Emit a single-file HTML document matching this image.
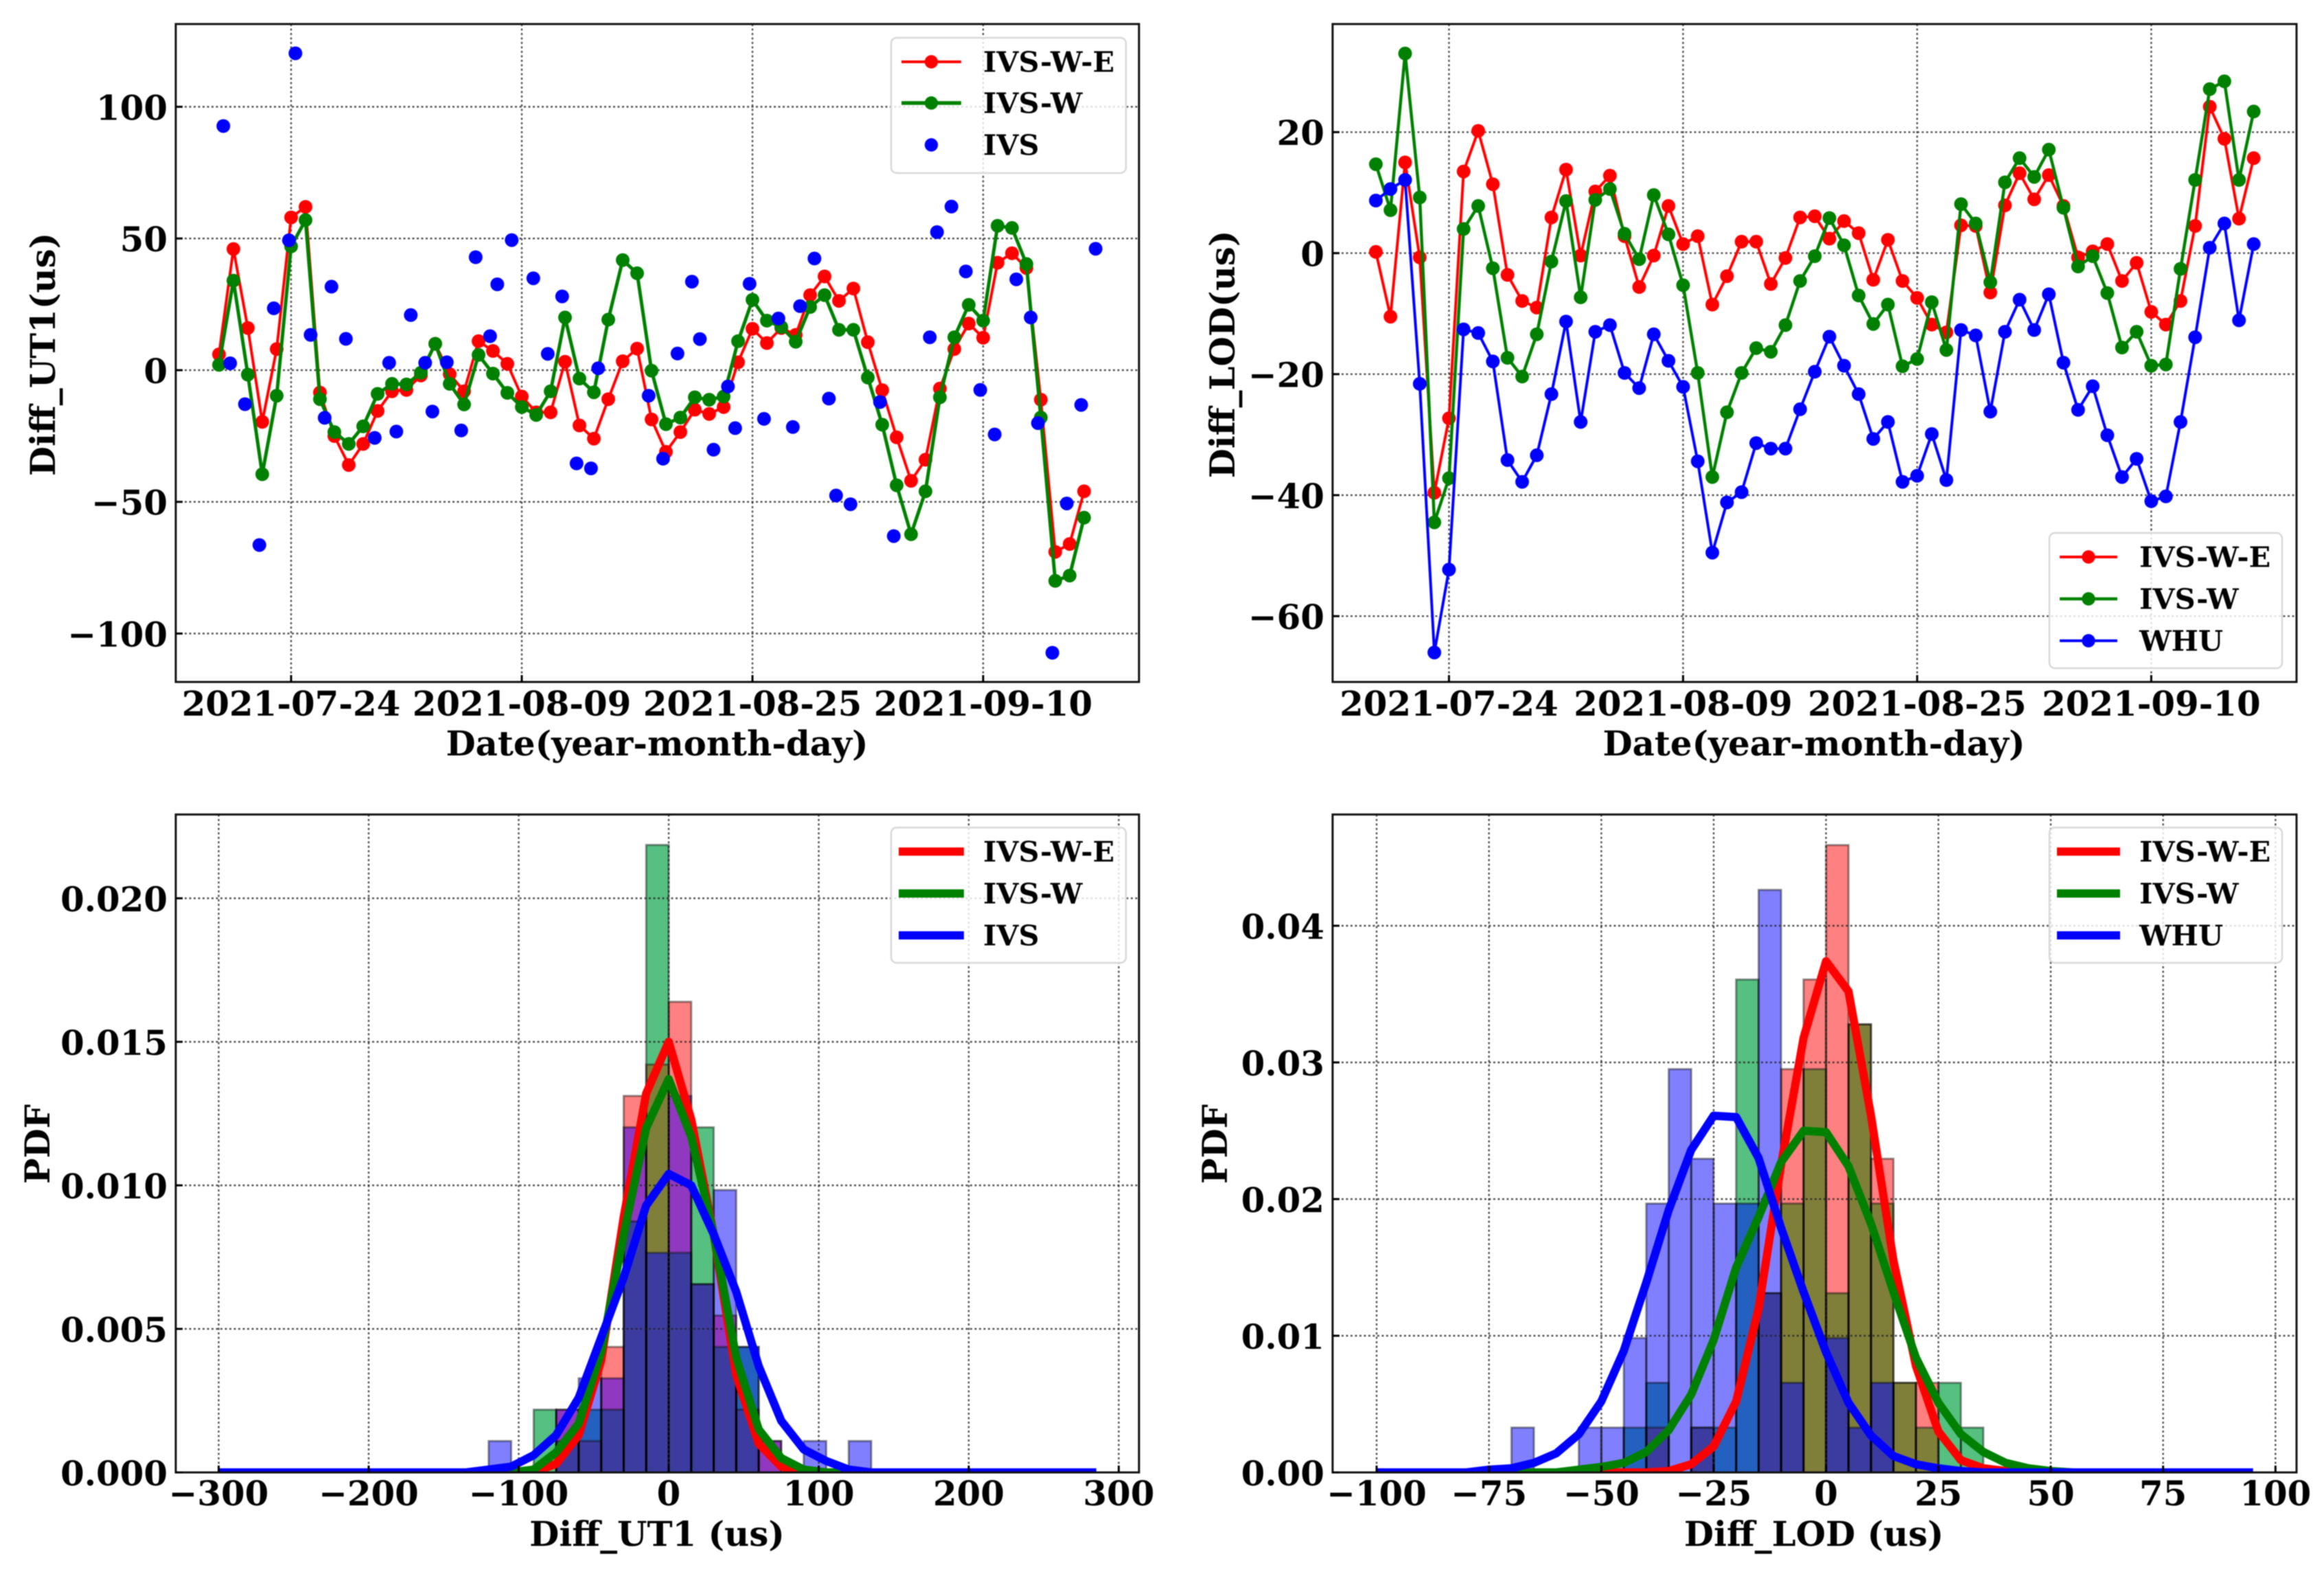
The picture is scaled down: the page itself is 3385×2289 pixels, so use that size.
<!DOCTYPE html>
<html lang="en">
<head>
<meta charset="utf-8">
<title>Diff UT1 and LOD comparison</title>
<style>
html,body{margin:0;padding:0;background:#fff;}
body{width:3385px;height:2289px;overflow:hidden;}
#figure{display:block;filter:blur(0.9px);}
text{font-family:"DejaVu Serif","Liberation Serif",serif;font-weight:bold;fill:#000;}
</style>
</head>
<body>
<svg id="figure" xmlns="http://www.w3.org/2000/svg" width="3385" height="2289" viewBox="0 0 3385 2289">
<rect x="0" y="0" width="3385" height="2289" fill="#ffffff"/>
</svg>
<script>
// ---------- shared tick data ----------
const dateTickLabels = ['2021-07-24','2021-08-09','2021-08-25','2021-09-10'];
const dateTickDays = [5,21,37,53];
const ut1YTicks = [-100,-50,0,50,100];
const lodYTicks = [-60,-40,-20,0,20];
const ut1PdfXTicks = [-300,-200,-100,0,100,200,300];
const lodPdfXTicks = [-100,-75,-50,-25,0,25,50,75,100];
const ut1PdfYTicks = ['0.000','0.005','0.010','0.015','0.020'];
const lodPdfYTicks = ['0.00','0.01','0.02','0.03','0.04'];

// ---------- Diff_UT1 time series (day index 0 = 2021-07-19) ----------
const ut1Red = [6,46,16,-19.6,8,58,62,-8.5,-25,-36,-28,-15.5,-8,-7.5,-2,10,-1.5,-8,11,7.3,2.4,-10,-16,-16,3.2,-21,-26,-11,3.4,8.2,-18.7,-31,-23.5,-15,-16.6,-14,3,15.7,10.3,16,13.4,28.5,35.6,26.3,31,10.6,-7.6,-25.5,-42,-34,-7,8,17.7,12.3,40.8,44.4,38.8,-11.2,-69,-66,-46];
const ut1Green = [2,34,-1.7,-39.5,-9.7,47,57,-11,-23.5,-28,-21.3,-9,-5.2,-5.4,-1,10,-5.2,-13,5.8,-1.3,-8.6,-14,-17,-8,20,-3.2,-8.4,19.2,41.8,36.8,-0.2,-20.5,-18,-10.3,-11.2,-10,11,26.7,18.8,16.4,10.8,24,28.5,15.3,15.3,-2.8,-20.7,-43.7,-62.3,-46,-10.3,12.5,24.8,18.8,54.8,54,40.3,-18,-80,-78,-56];
const ut1IvsDays = [0.3,0.77,1.8,2.8,3.8,4.85,5.3,6.35,7.33,7.8,8.8,10.8,11.8,12.3,13.3,14.3,14.8,15.8,16.8,17.8,18.8,19.3,20.3,21.8,22.8,23.8,24.8,25.8,26.3,29.8,30.8,31.8,32.8,33.35,34.3,35.3,35.8,36.8,37.8,38.8,39.8,40.3,41.3,42.3,42.8,43.8,45.85,46.8,49.3,49.8,50.8,51.8,52.8,53.8,55.3,56.3,56.8,57.8,58.8,59.8,60.8];
const ut1IvsValues = [92.7,2.6,-12.9,-66.4,23.5,49.3,120.3,13.4,-18.1,31.7,11.9,-25.7,2.8,-23.3,20.9,2.8,-15.7,3,-22.9,42.9,12.9,32.6,49.4,34.9,6.2,28,-35.4,-37.3,0.7,-9.7,-33.6,6.3,33.6,11.8,-30.2,-6.2,-22,32.8,-18.5,19.6,-21.6,24.3,42.4,-10.8,-47.6,-50.9,-12.1,-63,12.5,52.4,62.1,37.5,-7.5,-24.4,34.5,20,-20.1,-107.3,-50.6,-13.2,46.1];

// ---------- Diff_LOD time series ----------
const lodRed = [0.2,-10.5,15,-0.7,-39.6,-27.3,13.5,20.2,11.4,-3.6,-7.9,-9,5.9,13.8,-0.4,10.2,12.8,2.8,-5.6,-0.4,7.8,1.5,2.8,-8.5,-3.8,1.9,1.9,-5.1,-0.8,5.9,6.1,2.4,5.3,3.3,-4.4,2.2,-4.6,-7.4,-11.8,-13.1,4.6,4.5,-6.5,7.9,13.2,8.9,12.9,7.8,-0.7,0.3,1.5,-4.6,-1.6,-9.7,-11.8,-7.9,4.5,24.2,18.9,5.7,15.7];
const lodGreen = [14.7,7.1,33,9.2,-44.5,-37.2,4,7.8,-2.5,-17.3,-20.4,-13.4,-1.4,8.6,-7.3,8.8,10.6,3.2,-1,9.6,3.1,-5.3,-19.8,-37,-26.3,-19.8,-15.7,-16.3,-11.9,-4.6,-0.5,5.8,1.3,-7,-11.7,-8.5,-18.7,-17.5,-8.1,-16,8.1,4.9,-4.8,11.7,15.7,12.6,17.1,7.5,-2.2,-0.5,-6.6,-15.6,-13,-18.6,-18.4,-2.6,12.1,27.1,28.4,12.1,23.4];
const lodBlue = [8.7,10.6,12.1,-21.6,-66,-52.3,-12.6,-13.2,-17.9,-34.2,-37.8,-33.4,-23.3,-11.3,-27.9,-13,-11.9,-19.8,-22.3,-13.4,-17.8,-22.1,-34.4,-49.5,-41.2,-39.5,-31.4,-32.3,-32.3,-25.8,-19.6,-13.8,-18.6,-23.3,-30.7,-27.9,-37.8,-36.8,-29.9,-37.5,-12.7,-13.6,-26.2,-13,-7.7,-12.7,-6.8,-18.1,-25.9,-22,-30.1,-37,-34,-41,-40.2,-27.9,-13.9,0.9,4.9,-11.1,1.5];

// ---------- Diff_UT1 histogram (left bin edges, counts) ----------
const ut1BinEdges = [-120,-105,-90,-75,-60,-45,-30,-15,0,15,30,45,60,75,90,105,120];
const ut1HistRed = [0,0,0,2,1,4,12,13,15,6,5,2,1,0,0,0,0];
const ut1HistGreen = [0,0,2,1,2,2,8,20,7,11,4,4,0,0,0,0,0];
const ut1HistBlue = [1,0,0,2,3,3,11,7,12,6,9,4,1,0,1,0,1];

// ---------- Diff_UT1 fitted curves, node -300 + 15k ----------
const ut1CurveRed = [0,0,0,0,0,0,0,0,0,0,0,0, 0,0,0,.0003,.0013,.0039,.0089,.0132,.0150,.0123,.0083,.0034,.0010,.0002,0, 0,0,0,0,0,0,0,0,0,0,0,0,0];
const ut1CurveGreen = [0,0,0,0,0,0,0,0,0,0,0,0, 0,0,.0001,.0007,.0017,.0042,.0083,.0120,.0137,.0117,.0083,.0040,.0015,.0005,.0001, 0,0,0,0,0,0,0,0,0,0,0,0,0];
const ut1CurveBlue = [0,0,0,0,0,0,0,0,0,0,0,0, .0001,.0002,.0006,.0013,.0026,.0047,.0068,.0093,.0104,.0100,.0083,.0063,.0037,.0018,.0008, .0004,.0001,0,0,0,0,0,0,0,0,0,0,0];

// ---------- Diff_LOD histogram (left bin edges, counts) ----------
const lodBinEdges = [-70,-65,-60,-55,-50,-45,-40,-35,-30,-25,-20,-15,-10,-5,0,5,10,15,20,25,30];
const lodHistRed = [0,0,0,0,0,0,1,0,1,0,0,4,9,11,14,10,7,2,2,0,0];
const lodHistGreen = [0,0,0,0,0,1,2,0,1,1,11,4,6,9,4,10,6,2,1,2,1];
const lodHistBlue = [1,0,0,1,1,3,6,9,7,6,6,13,2,0,3,1,2,0,0,0,0];

// ---------- Diff_LOD fitted curves, node -100 + 5k ----------
const lodCurveRed = [0,0,0,0,0,0,0,0,0,0,0,0,0, .0001,.0006,.0019,.0052,.012,.0225,.0318,.0374,.0352,.0261,.0155,.0078,.003,.0009,.0003,.0001, 0,0,0,0,0,0,0,0,0,0,0];
const lodCurveGreen = [0,0,0,0,0,0,0,0,0, .0002,.0004,.0007,.0015,.0031,.0057,.0097,.015,.0187,.0227,.025,.0249,.0224,.0182,.0132,.0084,.0051,.0028,.0015,.0007,.0003,.0001, 0,0,0,0,0,0,0,0,0];
const lodCurveBlue = [0,0,0,0,0,.0002,.0003,.0007,.0014,.0028,.0052,.0089,.0139,.0192,.0236,.0261,.026,.023,.0179,.0132,.0088,.0051,.0027,.0012,.0006,.0003,.0001, 0,0,0,0,0,0,0,0,0,0,0,0,0];

const sampleCount = 61;

// ---------- helpers ----------
const svg = document.getElementById('figure');
const NS = 'http://www.w3.org/2000/svg';
function mk(tag, attrs, parent) {
  const el = document.createElementNS(NS, tag);
  for (const k in attrs) el.setAttribute(k, attrs[k]);
  (parent || svg).appendChild(el);
  return el;
}
function group(name) {
  const g = mk('g', {});
  
  
  return g;
}
function fmtMinus(v) { return String(v).replace('-', '\u2212'); }

const frames = {
  ut1Series: {L:256, R:1659, T:35, B:993},
  lodSeries: {L:1941, R:3345, T:35, B:993},
  ut1Pdf: {L:256, R:1659, T:1186, B:2144},
  lodPdf: {L:1941, R:3345, T:1186, B:2144}
};
// axis functions
const axes = {
  ut1Series: {x: d => 319 + 21 * d, y: v => 539 - 3.835 * v},
  lodSeries: {x: d => 2110.5 + 21.31 * (d - 5), y: v => 368.6 - 8.81 * v},
  ut1Pdf: {x: v => 974 + 2.185 * v, y: v => 2144 - 41800 * v},
  lodPdf: {x: v => 2659.7 + 6.546 * v, y: v => 2144 - 19900 * v}
};

function setupClip(key, g) {
  const f = frames[key];
  const cp = mk('clipPath', {id: 'clip-' + key}, g);
  mk('rect', {x: f.L, y: f.T, width: f.R - f.L, height: f.B - f.T}, cp);
}

function drawGrid(key, xVals, yVals, g) {
  const f = frames[key], ax = axes[key];
  xVals.forEach(v => {
    const line = mk('line', {x1: ax.x(v), x2: ax.x(v), y1: f.T, y2: f.B, stroke: '#222', 'stroke-width': 2.4, 'stroke-dasharray': '3 3.5', opacity: .8}, g);
    
    
  });
  yVals.forEach(v => {
    const line = mk('line', {x1: f.L, x2: f.R, y1: ax.y(+v), y2: ax.y(+v), stroke: '#222', 'stroke-width': 2.4, 'stroke-dasharray': '3 3.5', opacity: .8}, g);
    
    
  });
}

function drawFrame(key, g) {
  const f = frames[key];
  const r = mk('rect', {x: f.L, y: f.T, width: f.R - f.L, height: f.B - f.T, fill: 'none', stroke: '#111', 'stroke-width': 3}, g);
  
  
}

function drawTicks(key, xVals, xLabels, yVals, yLabels, xBase, g) {
  const f = frames[key], ax = axes[key];
  xVals.forEach((v, i) => {
    const px = ax.x(v);
    const t = mk('line', {x1: px, x2: px, y1: f.B, y2: f.B - 10, stroke: '#000', 'stroke-width': 3}, g);
    
    
    const l = mk('text', {x: px, y: xBase, 'font-size': 49.8, 'text-anchor': 'middle'}, g);
    l.textContent = xLabels[i];
    
    
  });
  yVals.forEach((v, i) => {
    const py = ax.y(+v);
    const t = mk('line', {x1: f.L, x2: f.L + 10, y1: py, y2: py, stroke: '#000', 'stroke-width': 3}, g);
    
    
    const l = mk('text', {x: f.L - 12, y: py + 18.8, 'font-size': 49.8, 'text-anchor': 'end'}, g);
    l.textContent = yLabels[i];
    
    
  });
}

function drawTitles(key, xText, xCx, xBase, yText, yCx, yCy, g) {
  const xt = mk('text', {x: xCx, y: xBase, 'font-size': 49.8, 'text-anchor': 'middle'}, g);
  xt.textContent = xText;
  
  
  const yt = mk('text', {x: yCx, y: yCy, 'font-size': 49.8, 'text-anchor': 'middle', transform: 'rotate(-90 ' + yCx + ' ' + yCy + ')'}, g);
  yt.textContent = yText;
  
  
}

function drawSeriesLine(key, values, color, width, g, name) {
  const ax = axes[key];
  const pts = values.map((v, i) => ax.x(i).toFixed(1) + ',' + ax.y(v).toFixed(1)).join(' ');
  const line = mk('polyline', {points: pts, fill: 'none', stroke: color, 'stroke-width': width, 'stroke-linejoin': 'round'}, g);
  
  
  values.forEach((v, i) => {
    const c = mk('circle', {cx: ax.x(i).toFixed(1), cy: ax.y(v).toFixed(1), r: 10, fill: color}, g);
    
    
  });
}

const overlapColors = {
  R: '#ff8080', G: '#55c080', B: '#8080ff',
  RG: '#807f3a', RB: '#9038c0', GB: '#2460c0', RGB: '#3c3ca0'
};

function drawHistogram(key, edges, width, red, green, blue, g) {
  const ax = axes[key];
  const unit = 1 / (sampleCount * width);
  edges.forEach((e, i) => {
    const counts = {R: red[i], G: green[i], B: blue[i]};
    const levels = [...new Set([0, counts.R, counts.G, counts.B])].sort((a, b) => a - b);
    for (let k = 0; k + 1 < levels.length; k++) {
      const lo = levels[k], hi = levels[k + 1];
      const mask = ['R', 'G', 'B'].filter(s => counts[s] > lo).join('');
      const seg = mk('rect', {
        x: ax.x(e), width: ax.x(e + width) - ax.x(e),
        y: ax.y(hi * unit), height: ax.y(lo * unit) - ax.y(hi * unit),
        fill: overlapColors[mask]
      }, g);
      
      
    }
  });
  const outline = (values, name) => {
    edges.forEach((e, i) => {
      if (!values[i]) return;
      const bar = mk('rect', {
        x: ax.x(e), width: ax.x(e + width) - ax.x(e),
        y: ax.y(values[i] * unit), height: ax.y(0) - ax.y(values[i] * unit),
        fill: 'none', stroke: 'rgba(0,0,0,.42)', 'stroke-width': 3
      }, g);
      
      
    });
  };
  outline(red, key + '-red');
  outline(green, key + '-green');
  outline(blue, key + '-blue');
}

function drawCurve(key, start, step, values, color, g, name) {
  const ax = axes[key];
  const pts = values.map((v, i) => ax.x(start + step * i).toFixed(1) + ',' + ax.y(v).toFixed(1)).join(' ');
  const line = mk('polyline', {points: pts, fill: 'none', stroke: color, 'stroke-width': 12, 'stroke-linejoin': 'round'}, g);
  
  
}

function drawLegend(name, x, y, w, h, rows, lineX1, lineX2, textX) {
  const g = group(name);
  const box = mk('rect', {x: x, y: y, width: w, height: h, rx: 8, ry: 8, fill: 'rgba(255,255,255,.82)', stroke: '#d8d8d8', 'stroke-width': 2.5}, g);
  
  
  rows.forEach(row => {
    if (row.lineWidth) {
      const l = mk('line', {x1: lineX1, x2: lineX2, y1: row.y, y2: row.y, stroke: row.color, 'stroke-width': row.lineWidth}, g);
      
      
    }
    if (row.marker) {
      const c = mk('circle', {cx: (lineX1 + lineX2) / 2, cy: row.y, r: 9.7, fill: row.color}, g);
      
      
    }
    const t = mk('text', {x: textX, y: row.y + 14.5, 'font-size': 41.5}, g);
    t.textContent = row.label;
    
    
  });
}

// ---------- panel 1: Diff_UT1 series ----------
(function () {
  const key = 'ut1Series';
  const g = group('ut1-series-panel');
  setupClip(key, g);
  drawGrid(key, dateTickDays, ut1YTicks, g);
  const marks = group('ut1-series-marks');
  marks.setAttribute('clip-path', 'url(#clip-' + key + ')');
  drawSeriesLine(key, ut1Red, '#ff0000', 4, marks, 'ut1-ivs-w-e');
  drawSeriesLine(key, ut1Green, '#008000', 5, marks, 'ut1-ivs-w');
  ut1IvsValues.forEach((v, i) => {
    const c = mk('circle', {cx: axes[key].x(ut1IvsDays[i]).toFixed(1), cy: axes[key].y(v).toFixed(1), r: 10, fill: '#0000ff'}, marks);
    
    
  });
  const top = group('ut1-series-axes');
  drawFrame(key, top);
  drawTicks(key, dateTickDays, dateTickLabels, ut1YTicks, ut1YTicks.map(fmtMinus), 1042, top);
  drawTitles(key, 'Date(year-month-day)', 957, 1100, 'Diff_UT1(us)', 80, 516, top);
  drawLegend('ut1-series-legend', 1298, 55, 342, 197, [
    {label: 'IVS-W-E', color: '#ff0000', lineWidth: 4, marker: true, y: 90},
    {label: 'IVS-W', color: '#008000', lineWidth: 5.5, marker: true, y: 150},
    {label: 'IVS', color: '#0000ff', lineWidth: 0, marker: true, y: 211}
  ], 1313, 1400, 1432);
})();

// ---------- panel 2: Diff_LOD series ----------
(function () {
  const key = 'lodSeries';
  const g = group('lod-series-panel');
  setupClip(key, g);
  drawGrid(key, dateTickDays, lodYTicks, g);
  const marks = group('lod-series-marks');
  marks.setAttribute('clip-path', 'url(#clip-' + key + ')');
  drawSeriesLine(key, lodRed, '#ff0000', 4, marks, 'lod-ivs-w-e');
  drawSeriesLine(key, lodGreen, '#008000', 4.5, marks, 'lod-ivs-w');
  drawSeriesLine(key, lodBlue, '#0000ff', 4, marks, 'lod-whu');
  const top = group('lod-series-axes');
  drawFrame(key, top);
  drawTicks(key, dateTickDays, dateTickLabels, lodYTicks, lodYTicks.map(fmtMinus), 1042, top);
  drawTitles(key, 'Date(year-month-day)', 2642, 1100, 'Diff_LOD(us)', 1798, 516, top);
  drawLegend('lod-series-legend', 2985, 776, 339, 197, [
    {label: 'IVS-W-E', color: '#ff0000', lineWidth: 4, marker: true, y: 811},
    {label: 'IVS-W', color: '#008000', lineWidth: 4.5, marker: true, y: 872},
    {label: 'WHU', color: '#0000ff', lineWidth: 4, marker: true, y: 933}
  ], 3000, 3084, 3116);
})();

// ---------- panel 3: Diff_UT1 PDF ----------
(function () {
  const key = 'ut1Pdf';
  const g = group('ut1-pdf-panel');
  setupClip(key, g);
  const marks = group('ut1-pdf-marks');
  marks.setAttribute('clip-path', 'url(#clip-' + key + ')');
  drawHistogram(key, ut1BinEdges, 15, ut1HistRed, ut1HistGreen, ut1HistBlue, marks);
  drawGrid(key, ut1PdfXTicks, ut1PdfYTicks, marks);
  drawCurve(key, -300, 15, ut1CurveRed, '#ff0000', marks, 'ut1-ivs-w-e');
  drawCurve(key, -300, 15, ut1CurveGreen, '#008000', marks, 'ut1-ivs-w');
  drawCurve(key, -300, 15, ut1CurveBlue, '#0000ff', marks, 'ut1-ivs');
  const top = group('ut1-pdf-axes');
  drawFrame(key, top);
  drawTicks(key, ut1PdfXTicks, ut1PdfXTicks.map(fmtMinus), ut1PdfYTicks, ut1PdfYTicks, 2192, top);
  drawTitles(key, 'Diff_UT1 (us)', 957, 2251, 'PDF', 72, 1666, top);
  drawLegend('ut1-pdf-legend', 1298, 1205, 342, 197, [
    {label: 'IVS-W-E', color: '#ff0000', lineWidth: 12, marker: false, y: 1240},
    {label: 'IVS-W', color: '#008000', lineWidth: 12, marker: false, y: 1301},
    {label: 'IVS', color: '#0000ff', lineWidth: 12, marker: false, y: 1362}
  ], 1309, 1404, 1432);
})();

// ---------- panel 4: Diff_LOD PDF ----------
(function () {
  const key = 'lodPdf';
  const g = group('lod-pdf-panel');
  setupClip(key, g);
  const marks = group('lod-pdf-marks');
  marks.setAttribute('clip-path', 'url(#clip-' + key + ')');
  drawHistogram(key, lodBinEdges, 5, lodHistRed, lodHistGreen, lodHistBlue, marks);
  drawGrid(key, lodPdfXTicks, lodPdfYTicks, marks);
  drawCurve(key, -100, 5, lodCurveRed, '#ff0000', marks, 'lod-ivs-w-e');
  drawCurve(key, -100, 5, lodCurveGreen, '#008000', marks, 'lod-ivs-w');
  drawCurve(key, -100, 5, lodCurveBlue, '#0000ff', marks, 'lod-whu');
  const top = group('lod-pdf-axes');
  drawFrame(key, top);
  drawTicks(key, lodPdfXTicks, lodPdfXTicks.map(fmtMinus), lodPdfYTicks, lodPdfYTicks, 2192, top);
  drawTitles(key, 'Diff_LOD (us)', 2642, 2251, 'PDF', 1787, 1666, top);
  drawLegend('lod-pdf-legend', 2985, 1205, 339, 197, [
    {label: 'IVS-W-E', color: '#ff0000', lineWidth: 12, marker: false, y: 1240},
    {label: 'IVS-W', color: '#008000', lineWidth: 12, marker: false, y: 1301},
    {label: 'WHU', color: '#0000ff', lineWidth: 12, marker: false, y: 1362}
  ], 2996, 3088, 3116);
})();
</script>
</body>
</html>
